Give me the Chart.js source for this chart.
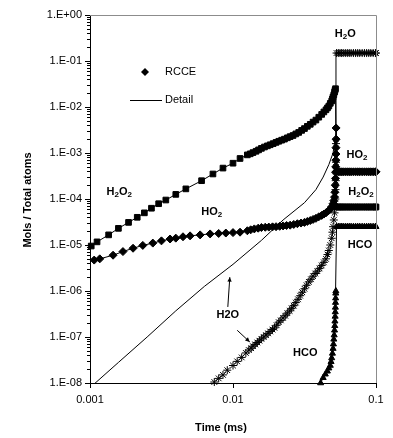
<!DOCTYPE html>
<html lang="en">
<head>
<meta charset="UTF-8">
<title>RCCE vs Detail</title>
<script src="https://cdn.jsdelivr.net/npm/chart.js@4.4.1/dist/chart.umd.min.js"></script>
<style>
  html, body { margin: 0; padding: 0; background: #fff; }
</style>
</head>
<body>
<canvas id="chart" width="393" height="438"></canvas>
<script>
// axis ticks
var xTicks = [0.001, 0.01, 0.1];
var xTickLabels = ['0.001', '0.01', '0.1'];
var yTicks = [1e-8, 1e-7, 1e-6, 1e-5, 1e-4, 1e-3, 1e-2, 1e-1, 1];
var yTickLabels = ['1.E-08', '1.E-07', '1.E-06', '1.E-05', '1.E-04', '1.E-03', '1.E-02', '1.E-01', '1.E+00'];

// RCCE, up to ignition (time in ms, mols / total atoms)
var tH2O2 = [0.00102, 0.00112, 0.00135, 0.00158, 0.00186, 0.00214, 0.0024, 0.00269, 0.00302, 0.00339, 0.00398, 0.00468, 0.00603, 0.00724, 0.00851, 0.0100, 0.0112,
  0.0126, 0.0132, 0.0138, 0.0145, 0.0151, 0.0158, 0.0166, 0.0174, 0.0182, 0.0191, 0.0200, 0.0209, 0.0219, 0.0229, 0.0240, 0.0251, 0.0263, 0.0275, 0.0288, 0.0302, 0.0316, 0.0331, 0.0347, 0.0363, 0.0380, 0.0398, 0.0417, 0.0432, 0.0447, 0.0458, 0.0468, 0.0479, 0.0490, 0.0496, 0.0501, 0.0507, 0.0513, 0.0517, 0.0521];
var H2O2 = [9.5e-6, 1.17e-5, 1.66e-5, 2.3e-5, 3.1e-5, 4.0e-5, 5.0e-5, 6.3e-5, 7.9e-5, 9.5e-5, 1.26e-4, 1.66e-4, 2.5e-4, 3.5e-4, 4.7e-4, 6.0e-4, 7.6e-4,
  9.1e-4, 9.6e-4, 1.02e-3, 1.09e-3, 1.17e-3, 1.26e-3, 1.35e-3, 1.43e-3, 1.51e-3, 1.6e-3, 1.7e-3, 1.8e-3, 1.9e-3, 2.0e-3, 2.14e-3, 2.27e-3, 2.4e-3, 2.6e-3, 2.8e-3, 3.1e-3, 3.4e-3, 3.8e-3, 4.2e-3, 4.7e-3, 5.2e-3, 6.0e-3, 6.9e-3, 7.8e-3, 8.7e-3, 9.6e-3, 1.05e-2, 1.2e-2, 1.35e-2, 1.5e-2, 1.66e-2, 1.85e-2, 2.1e-2, 2.3e-2, 2.5e-2];

var tHO2 = [0.00107, 0.00117, 0.00145, 0.0017, 0.002, 0.00234, 0.00275, 0.00316, 0.00363, 0.00398, 0.00447, 0.00501, 0.00589, 0.00692, 0.00794, 0.00891, 0.0100, 0.0112,
  0.0126, 0.0133, 0.0141, 0.0150, 0.0158, 0.0168, 0.0178, 0.0189, 0.0200, 0.0212, 0.0224, 0.0237, 0.0251, 0.0266, 0.0282, 0.0299, 0.0316, 0.0331, 0.0347, 0.0363, 0.0380, 0.0398, 0.0417, 0.0432, 0.0447, 0.0463, 0.0479, 0.0490, 0.0501, 0.0507, 0.0513, 0.0516, 0.0519, 0.0521, 0.0522, 0.0523, 0.0524, 0.0525, 0.0525, 0.0526, 0.0526];
var HO2 = [4.7e-6, 5.0e-6, 6.0e-6, 7.2e-6, 8.5e-6, 9.8e-6, 1.1e-5, 1.23e-5, 1.35e-5, 1.41e-5, 1.51e-5, 1.58e-5, 1.66e-5, 1.74e-5, 1.78e-5, 1.82e-5, 1.86e-5, 1.9e-5,
  2.04e-5, 2.14e-5, 2.24e-5, 2.32e-5, 2.4e-5, 2.43e-5, 2.45e-5, 2.48e-5, 2.5e-5, 2.55e-5, 2.6e-5, 2.65e-5, 2.7e-5, 2.8e-5, 2.9e-5, 3.0e-5, 3.1e-5, 3.25e-5, 3.4e-5, 3.6e-5, 3.8e-5, 4.1e-5, 4.4e-5, 4.7e-5, 5.0e-5, 5.5e-5, 6.0e-5, 6.8e-5, 7.9e-5, 9.2e-5, 1.1e-4, 1.4e-4, 2.0e-4, 2.8e-4, 3.8e-4, 5.0e-4, 7.0e-4, 9.5e-4, 1.3e-3, 2.0e-3, 3.5e-3];

var tH2O = [0.0074, 0.00794, 0.00851, 0.00912, 0.0100, 0.0107, 0.0115, 0.0123,
  0.0129, 0.0134, 0.0138, 0.0143, 0.0148, 0.0153, 0.0158, 0.0164, 0.0170, 0.0176, 0.0182, 0.0189, 0.0195, 0.0202, 0.0209, 0.0216, 0.0224, 0.0232, 0.0240, 0.0249, 0.0257, 0.0266, 0.0275, 0.0285, 0.0295, 0.0305, 0.0316, 0.0327, 0.0339, 0.0351, 0.0363, 0.0376, 0.0389, 0.0403, 0.0417, 0.0432, 0.0447, 0.0458, 0.0468, 0.0479, 0.0490, 0.0496, 0.0501, 0.0507, 0.0513, 0.0516, 0.0519, 0.0521, 0.0523, 0.0524, 0.0525, 0.0525];
var H2O = [1.05e-8, 1.26e-8, 1.5e-8, 1.9e-8, 2.4e-8, 2.95e-8, 3.6e-8, 4.5e-8,
  5.2e-8, 5.7e-8, 6.3e-8, 6.9e-8, 7.6e-8, 8.3e-8, 9.1e-8, 1.0e-7, 1.1e-7, 1.2e-7, 1.32e-7, 1.45e-7, 1.58e-7, 1.8e-7, 2.1e-7, 2.3e-7, 2.6e-7, 2.9e-7, 3.3e-7, 3.7e-7, 4.2e-7, 4.8e-7, 5.6e-7, 6.6e-7, 7.9e-7, 9.4e-7, 1.12e-6, 1.33e-6, 1.58e-6, 1.8e-6, 2.1e-6, 2.4e-6, 2.7e-6, 3.1e-6, 3.6e-6, 4.2e-6, 5.0e-6, 6.2e-6, 7.6e-6, 1.0e-5, 1.4e-5, 1.9e-5, 2.5e-5, 3.5e-5, 5.0e-5, 7.0e-5, 1.0e-4, 1.6e-4, 2.5e-4, 4.0e-4, 6.3e-4, 1.6e-3];

var tHCO = [0.0410, 0.0427, 0.0442, 0.0457, 0.0468, 0.0479, 0.0485, 0.0490, 0.0496, 0.0501, 0.0504, 0.0507, 0.0510, 0.0513, 0.0515, 0.0516, 0.0518, 0.0519, 0.0520, 0.0521, 0.0522, 0.0523, 0.0524];
var HCO = [1.0e-8, 1.3e-8, 1.55e-8, 1.8e-8, 2.1e-8, 2.4e-8, 2.9e-8, 3.5e-8, 4.4e-8, 5.6e-8, 7.0e-8, 8.9e-8, 1.1e-7, 1.4e-7, 1.75e-7, 2.2e-7, 2.8e-7, 3.5e-7, 4.4e-7, 5.6e-7, 7.0e-7, 8.9e-7, 1.0e-6];

// after ignition every species levels off
var tPost = [0.0530, 0.0545, 0.0560, 0.0575, 0.0590, 0.0610, 0.0630, 0.0650, 0.0670, 0.0695, 0.0720, 0.0745, 0.0770, 0.0800, 0.0830, 0.0860, 0.0890, 0.0920, 0.0955, 0.0990, 0.1];
var H2O2post = 6.7e-5;
var HO2post = 3.9e-4;
var H2Opost = 0.149;
var HCOpost = 2.5e-5;

// Detail mechanism, H2O (the other Detail curves lie under the RCCE markers)
var tH2Od = [0.001, 0.00158, 0.00251, 0.00398, 0.00631, 0.0100, 0.0158, 0.0224, 0.0316, 0.0380, 0.0427, 0.0468, 0.0501, 0.0525, 0.0525, 0.1];
var H2Od = [7.9e-9, 2.8e-8, 1.0e-7, 3.7e-7, 1.26e-6, 3.8e-6, 1.26e-5, 3.5e-5, 8.3e-5, 1.6e-4, 3.0e-4, 5.6e-4, 1.0e-3, 2.7e-3, 0.149, 0.149];

// labels on the plot, placed in data coordinates ("_" = next char subscript)
var notes = [
  { text: 'H_2O_2', x: 0.0016, y: 1.4e-4 },
  { text: 'HO_2', x: 0.0071, y: 5.2e-5 },
  { text: 'H_2O', x: 0.061, y: 0.39 },
  { text: 'HO_2', x: 0.0736, y: 9.1e-4 },
  { text: 'H_2O_2', x: 0.0785, y: 1.4e-4 },
  { text: 'HCO', x: 0.0773, y: 1.0e-5 },
  { text: 'H2O', x: 0.0092, y: 3.0e-7 },
  { text: 'HCO', x: 0.032, y: 4.5e-8 }
];
var arrows = [
  { from: [0.0092, 4.5e-7], to: [0.0095, 2.0e-6] },
  { from: [0.0107, 1.4e-7], to: [0.0131, 7.8e-8] }
];

function pts(t, v) {
  return t.map(function (x, i) { return { x: x, y: v[i] }; });
}
function withPost(t, v, post) {
  return pts(t, v).concat(tPost.map(function (x) { return { x: x, y: post }; }));
}

var FONT = '"Liberation Sans", Arial, sans-serif';
Chart.defaults.font.family = FONT;
Chart.defaults.color = '#000';

function rcce(data, style, r) {
  return {
    label: 'RCCE', data: data, showLine: false, pointStyle: style, pointRadius: r,
    backgroundColor: '#000', borderColor: '#000', borderWidth: 1, clip: false
  };
}
function detail(data) {
  return {
    label: 'Detail', data: data, showLine: true, pointRadius: 0,
    borderColor: '#000', borderWidth: 1, fill: false, tension: 0
  };
}

function drawSub(ctx, text, x, y) {
  var parts = [];
  for (var i = 0; i < text.length; i++) {
    if (text[i] === '_') { parts.push({ c: text[i + 1], sub: true }); i++; }
    else parts.push({ c: text[i], sub: false });
  }
  var big = 'bold 11px ' + FONT, small = 'bold 8px ' + FONT;
  var w = 0;
  parts.forEach(function (p) { ctx.font = p.sub ? small : big; w += ctx.measureText(p.c).width; });
  var cx = x - w / 2;
  ctx.textAlign = 'left';
  ctx.textBaseline = 'middle';
  parts.forEach(function (p) {
    ctx.font = p.sub ? small : big;
    ctx.fillText(p.c, cx, p.sub ? y + 3 : y);
    cx += ctx.measureText(p.c).width;
  });
}

var extras = {
  id: 'extras',
  afterDraw: function (chart) {
    var ctx = chart.ctx, a = chart.chartArea;
    var xs = chart.scales.x, ys = chart.scales.y;
    ctx.save();
    // grey frame top and right
    ctx.strokeStyle = '#8c8c8c';
    ctx.lineWidth = 1;
    ctx.beginPath();
    ctx.moveTo(a.left, a.top + 0.5);
    ctx.lineTo(a.right + 0.5, a.top + 0.5);
    ctx.lineTo(a.right + 0.5, a.bottom);
    ctx.stroke();
    // minor ticks on y axis
    ctx.strokeStyle = '#000';
    ctx.beginPath();
    for (var n = -8; n < 0; n++) {
      for (var k = 2; k <= 9; k++) {
        var py = Math.round(ys.getPixelForValue(k * Math.pow(10, n))) + 0.5;
        ctx.moveTo(a.left - 3, py);
        ctx.lineTo(a.left, py);
      }
    }
    ctx.stroke();
    // legend
    ctx.fillStyle = '#000';
    ctx.beginPath();
    ctx.moveTo(145, 68); ctx.lineTo(149, 72); ctx.lineTo(145, 76); ctx.lineTo(141, 72);
    ctx.closePath();
    ctx.fill();
    ctx.beginPath();
    ctx.moveTo(130, 100.5); ctx.lineTo(162, 100.5);
    ctx.stroke();
    ctx.font = '11px ' + FONT;
    ctx.textAlign = 'left';
    ctx.textBaseline = 'middle';
    ctx.fillText('RCCE', 165, 72);
    ctx.fillText('Detail', 165, 100);
    // labels
    notes.forEach(function (nt) {
      drawSub(ctx, nt.text, xs.getPixelForValue(nt.x), ys.getPixelForValue(nt.y));
    });
    // arrows
    arrows.forEach(function (ar) {
      var x0 = xs.getPixelForValue(ar.from[0]), y0 = ys.getPixelForValue(ar.from[1]);
      var x1 = xs.getPixelForValue(ar.to[0]), y1 = ys.getPixelForValue(ar.to[1]);
      ctx.beginPath();
      ctx.moveTo(x0, y0); ctx.lineTo(x1, y1);
      ctx.stroke();
      var ang = Math.atan2(y1 - y0, x1 - x0);
      ctx.beginPath();
      ctx.moveTo(x1, y1);
      ctx.lineTo(x1 - 5 * Math.cos(ang - 0.45), y1 - 5 * Math.sin(ang - 0.45));
      ctx.lineTo(x1 - 5 * Math.cos(ang + 0.45), y1 - 5 * Math.sin(ang + 0.45));
      ctx.closePath();
      ctx.fill();
    });
    // axis titles
    ctx.font = 'bold 11px ' + FONT;
    ctx.textAlign = 'center';
    ctx.fillText('Time (ms)', 221, 428);
    ctx.translate(28, 200);
    ctx.rotate(-Math.PI / 2);
    ctx.fillText('Mols / Total atoms', 0, 0);
    ctx.restore();
  }
};

new Chart(document.getElementById('chart'), {
  type: 'scatter',
  data: {
    datasets: [
      rcce(withPost(tH2O2, H2O2, H2O2post), 'rect', 4),
      rcce(withPost(tHO2, HO2, HO2post), 'rectRot', 4),
      rcce(withPost(tH2O, H2O, H2Opost), 'star', 4),
      rcce(withPost(tHCO, HCO, HCOpost), 'triangle', 3.5),
      detail(withPost(tH2O2, H2O2, H2O2post)),
      detail(withPost(tHO2, HO2, HO2post)),
      detail(withPost(tHCO, HCO, HCOpost)),
      detail(pts(tH2Od, H2Od))
    ]
  },
  options: {
    responsive: false,
    animation: false,
    layout: { padding: { top: 15, right: 17, left: 0, bottom: 0 } },
    plugins: { legend: { display: false }, tooltip: { enabled: false } },
    scales: {
      x: {
        type: 'logarithmic', min: 0.001, max: 0.1,
        afterBuildTicks: function (s) { s.ticks = xTicks.map(function (v) { return { value: v }; }); },
        afterFit: function (s) { s.height = 55; },
        ticks: {
          autoSkip: false, maxRotation: 0, padding: 5, color: '#000',
          font: { size: 11 },
          callback: function (v) { return xTickLabels[xTicks.indexOf(v)]; }
        },
        grid: { drawOnChartArea: false, drawTicks: true, tickLength: 5, color: '#000' },
        border: { color: '#000', width: 1 }
      },
      y: {
        type: 'logarithmic', min: 1e-8, max: 1,
        afterBuildTicks: function (s) { s.ticks = yTicks.map(function (v) { return { value: v }; }); },
        afterFit: function (s) { s.width = 90; },
        ticks: {
          autoSkip: false, padding: 3, color: '#000',
          font: { size: 11 },
          callback: function (v) { return yTickLabels[yTicks.indexOf(v)]; }
        },
        grid: { drawOnChartArea: false, drawTicks: true, tickLength: 5, color: '#000' },
        border: { color: '#000', width: 1 }
      }
    }
  },
  plugins: [extras]
});
</script>
</body>
</html>
